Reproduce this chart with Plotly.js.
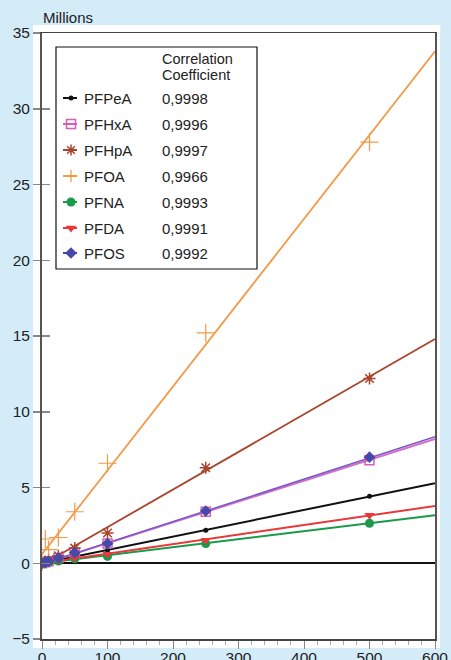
<!DOCTYPE html>
<html><head><meta charset="utf-8">
<script src="https://cdn.plot.ly/plotly-3.0.1.min.js"></script>
<style>html,body{margin:0;padding:0;background:#d4ebf8;}</style>
</head><body><div id="chart" style="width:451px;height:660px;"></div>
<script>
// concentrations (x) of the calibration points
const concentrations = [0, 5, 10, 25, 50, 100, 250, 500];
const seriesNames = ['PFPeA', 'PFHxA', 'PFHpA', 'PFOA', 'PFNA', 'PFDA', 'PFOS'];
const correlations = ['0,9998', '0,9996', '0,9997', '0,9966', '0,9993', '0,9991', '0,9992'];
// responses (millions)
const PFPeA = [0, 0.05, 0.1, 0.22, 0.43, 0.86, 2.18, 4.42];
const PFHxA = [0, 0.07, 0.14, 0.35, 0.7, 1.3, 3.4, 6.8];
const PFHpA = [0, 0.1, 0.2, 0.5, 1.0, 2.0, 6.3, 12.2];
const PFOA  = [0.1, 1.6, 0.9, 1.7, 3.4, 6.6, 15.2, 27.8];
const PFNA  = [0, 0.03, 0.06, 0.15, 0.3, 0.45, 1.3, 2.64];
const PFDA  = [0, 0.04, 0.08, 0.18, 0.35, 0.6, 1.52, 3.17];
const PFOS  = [0, 0.07, 0.14, 0.35, 0.7, 1.3, 3.45, 7.0];
// regression lines read at x = 0 and x = 600
const fitX = [0, 600];
const fitPFPeA = [0, 5.28];
const fitPFHxA = [-0.05, 8.2];
const fitPFHpA = [-0.1, 14.8];
const fitPFOA  = [0.6, 33.8];
const fitPFNA  = [0, 3.17];
const fitPFDA  = [0, 3.78];
const fitPFOS  = [-0.05, 8.35];

const values = [PFPeA, PFHxA, PFHpA, PFOA, PFNA, PFDA, PFOS];
const fits = [fitPFPeA, fitPFHxA, fitPFHpA, fitPFOA, fitPFNA, fitPFDA, fitPFOS];

const styles = [
  {color: '#111111', lineColor: '#111111', symbol: 'circle', size: 5, lw: 0, width: 2},
  {color: '#d85cb8', lineColor: '#d070c8', symbol: 'square-open', size: 9, lw: 1.5, width: 2},
  {color: '#a8442c', lineColor: '#a8442c', symbol: 'asterisk-open', size: 10, lw: 1.5, width: 1.8},
  {color: '#f29a48', lineColor: '#f29a48', symbol: 'cross-thin-open', size: 13, lw: 1.2, width: 1.8},
  {color: '#1a9a4a', lineColor: '#1a9a4a', symbol: 'circle', size: 9, lw: 0, width: 2},
  {color: '#e8383a', lineColor: '#e8383a', symbol: 'triangle-down', size: 9, lw: 0, width: 2},
  {color: '#4848a8', lineColor: '#7a58c8', symbol: 'diamond', size: 9, lw: 0, width: 1.5}
];

const traces = [];
// fit lines
seriesNames.forEach((n, i) => {
  traces.push({x: fitX, y: fits[i], mode: 'lines', line: {color: styles[i].lineColor, width: styles[i].width},
    showlegend: false, hoverinfo: 'skip'});
});
// invisible copy on the tick-only overlay axis so that its inner ticks are drawn
traces.push({x: fitX, y: fitPFPeA, yaxis: 'y3', mode: 'lines', line: {width: 0}, opacity: 0,
  showlegend: false, hoverinfo: 'skip'});
// data points
seriesNames.forEach((n, i) => {
  const s = styles[i];
  traces.push({x: concentrations, y: values[i], mode: 'markers', name: n, showlegend: false,
    marker: {symbol: s.symbol, size: s.size, color: s.color, line: {color: s.color, width: s.lw}}});
});

// manual legend on a pixel-unit overlay axis (origin = top-left of plot area)
const legRowY = [65, 91, 117, 143, 169, 195, 220];
const annotations = [];
seriesNames.forEach((n, i) => {
  const s = styles[i];
  traces.push({x: [21, 35], y: [legRowY[i], legRowY[i]], xaxis: 'x2', yaxis: 'y2', mode: 'lines',
    line: {color: s.color, width: 2}, showlegend: false, hoverinfo: 'skip'});
  traces.push({x: [29], y: [legRowY[i]], xaxis: 'x2', yaxis: 'y2', mode: 'markers',
    marker: {symbol: s.symbol, size: Math.min(s.size, 9), color: s.color, line: {color: s.color, width: s.lw}},
    showlegend: false, hoverinfo: 'skip'});
  annotations.push({xref: 'x2', yref: 'y2', x: 40, y: legRowY[i], text: n, showarrow: false,
    xanchor: 'left', yanchor: 'middle', font: {size: 15, color: '#222'}});
  annotations.push({xref: 'x2', yref: 'y2', x: 118, y: legRowY[i], text: correlations[i], showarrow: false,
    xanchor: 'left', yanchor: 'middle', font: {size: 15, color: '#222'}});
});
annotations.push({xref: 'x2', yref: 'y2', x: 118, y: 26, text: 'Correlation', showarrow: false,
  xanchor: 'left', yanchor: 'middle', font: {size: 14.5, color: '#222'}});
annotations.push({xref: 'x2', yref: 'y2', x: 118, y: 42, text: 'Coefficient', showarrow: false,
  xanchor: 'left', yanchor: 'middle', font: {size: 14.5, color: '#222'}});
annotations.push({xref: 'paper', yref: 'paper', x: -0.002, y: 1.025, text: 'Millions', showarrow: false,
  xanchor: 'left', yanchor: 'middle', font: {size: 15, color: '#222'}});

const layout = {
  width: 451, height: 660,
  margin: {l: 42, r: 16, t: 33, b: 21},
  paper_bgcolor: '#d4ebf8',
  plot_bgcolor: 'rgba(0,0,0,0)',
  font: {family: '"Liberation Sans", Arial, sans-serif', color: '#222'},
  showlegend: false,
  xaxis: {range: [0, 600], dtick: 100, ticks: 'outside', ticklen: 8, tickcolor: '#888', tickwidth: 1,
    ticklabelstandoff: -4,
    showline: true, mirror: true, linecolor: '#444', linewidth: 1.5, showgrid: false, zeroline: false,
    tickfont: {size: 15.5, color: '#222'},
    minor: {dtick: 20, ticks: 'outside', ticklen: 4, tickcolor: '#aaa'}},
  yaxis: {range: [-5, 35], dtick: 5, ticks: 'outside', ticklen: 7, tickcolor: '#888', tickwidth: 1.5,
    showline: true, mirror: true, linecolor: '#555', linewidth: 2, showgrid: false,
    zeroline: true, zerolinecolor: '#111', zerolinewidth: 2,
    tickfont: {size: 15.5, color: '#222'}},
  yaxis3: {overlaying: 'y', anchor: 'x', side: 'left', range: [-5, 35], dtick: 5, ticks: 'inside', ticklen: 8,
    tickcolor: '#888', tickwidth: 1.5, showticklabels: false, showline: false, showgrid: false, zeroline: false},
  xaxis2: {overlaying: 'x', anchor: 'y2', range: [0, 393], visible: false, fixedrange: true},
  yaxis2: {overlaying: 'y', anchor: 'x2', range: [606, 0], visible: false, fixedrange: true},
  shapes: [
    {type: 'rect', xref: 'paper', yref: 'paper', x0: -0.023, x1: 1.013, y0: -0.015, y1: 1.013,
      fillcolor: '#ffffff', line: {width: 0}, layer: 'below'},
    {type: 'rect', xref: 'x2', yref: 'y2', x0: 14, x1: 215, y0: 14, y1: 236,
      fillcolor: 'rgba(0,0,0,0)', line: {color: '#111', width: 1.2}}
  ],
  annotations: annotations
};

Plotly.newPlot('chart', traces, layout, {staticPlot: true, displayModeBar: false});
</script></body></html>
